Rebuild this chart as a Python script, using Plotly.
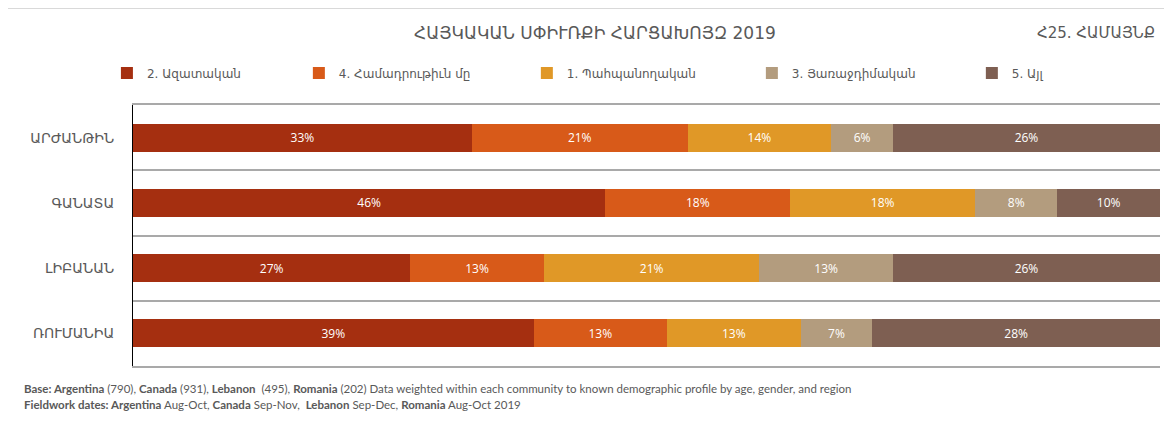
import plotly.graph_objects as go

# Datos
paises = ["ԱՐԺԱՆԹԻՆ", "ԳԱՆԱՏԱ", "ԼԻԲԱՆԱՆ", "ՌՈՒՄԱՆԻԱ"]
series = ["2. Ազատական", "4. Համադրութիւն մը", "1. Պահպանողական", "3. Յառաջդիմական", "5. Այլ"]
azatakan = [33, 46, 27, 39]
hamadrutyun = [21, 18, 13, 13]
pahpanoghakan = [14, 18, 21, 13]
harajdimakan = [6, 8, 13, 7]
ayl = [26, 10, 26, 28]
colores = ["#A52F10", "#D85A19", "#E09827", "#B39C7E", "#7E5F52"]

text_color = "#595959"
arm_font = "DejaVu Sans"

# Posición horizontal de cada leyenda (cada serie tiene la suya)
legend_x = [-0.0254, 0.1615, 0.3835, 0.6026, 0.8168]
legend_names = ["legend", "legend2", "legend3", "legend4", "legend5"]

fig = go.Figure()
for nombre, valores, col, leg in zip(series, [azatakan, hamadrutyun, pahpanoghakan, harajdimakan, ayl],
                                     colores, legend_names):
    fig.add_trace(go.Bar(
        y=paises, x=valores, name=nombre, orientation="h", legend=leg, showlegend=True,
        marker=dict(color=col, line=dict(width=0)),
        texttemplate="%{x}%", textposition="inside", insidetextanchor="middle",
        textfont=dict(color="white", size=12, family="Open Sans"),
        hoverinfo="skip"
    ))

leyendas = {}
for leg, lx in zip(legend_names, legend_x):
    leyendas[leg] = dict(
        orientation="h", x=lx, xanchor="left", y=1.1226, yanchor="middle",
        font=dict(size=12, color=text_color, family=arm_font),
        itemwidth=30, bgcolor="rgba(0,0,0,0)"
    )

# La página deja 8 px de margen en el body: se compensa en los márgenes
fig.update_layout(
    barmode="stack",
    bargap=0.57,
    showlegend=True,
    plot_bgcolor="white", paper_bgcolor="white",
    margin=dict(l=125, r=4, t=97, b=50),
    font=dict(family=arm_font, color=text_color),
    xaxis=dict(range=[0, 100], showgrid=False, zeroline=False, showticklabels=False, ticks="",
               showline=True, mirror=True, linecolor="#A9A9A9", linewidth=2),
    yaxis=dict(
        autorange="reversed",
        tickson="boundaries", showgrid=True, gridcolor="#A9A9A9", gridwidth=2,
        ticks="", ticklabelstandoff=15,
        showline=True, linecolor="black", linewidth=1,
        tickfont=dict(size=14, color=text_color, family=arm_font),
    ),
    **leyendas
)

# Título y etiqueta de pregunta
fig.add_annotation(text="ՀԱՅԿԱԿԱՆ ՍՓԻՒՌՔԻ ՀԱՐՑԱԽՈՅԶ 2019", xref="paper", yref="paper",
                   x=0.45, y=1.276, xanchor="center", yanchor="middle", showarrow=False,
                   font=dict(size=17, color=text_color, family=arm_font))
fig.add_annotation(text="Հ25. ՀԱՄԱՅՆՔ", xref="paper", yref="paper",
                   x=0.997, y=1.276, xanchor="right", yanchor="middle", showarrow=False,
                   font=dict(size=15, color=text_color, family=arm_font))

# Notas al pie
nota1 = ("<b>Base: Argentina</b> (790), <b>Canada</b> (931), <b>Lebanon</b>  (495), <b>Romania</b> (202) "
         "Data weighted within each community to known demographic profile by age, gender, and region")
nota2 = ("<b>Fieldwork dates: Argentina</b> Aug-Oct, <b>Canada</b> Sep-Nov,  <b>Lebanon</b> Sep-Dec, "
         "<b>Romania</b> Aug-Oct 2019")
fig.add_annotation(text=nota1, xref="paper", yref="paper", x=-0.108, y=-0.088,
                   xanchor="left", yanchor="middle", showarrow=False,
                   font=dict(size=11.5, color=text_color, family="Lato"))
fig.add_annotation(text=nota2, xref="paper", yref="paper", x=-0.108, y=-0.149,
                   xanchor="left", yanchor="middle", showarrow=False,
                   font=dict(size=11.5, color=text_color, family="Lato"))

# Borde exterior
fig.add_shape(type="rect", xref="paper", yref="paper", x0=-0.124, x1=1.05, y0=-0.4, y1=1.372,
              line=dict(color="#D9D9D9", width=2), layer="below")

fig.write_html("out.html")
